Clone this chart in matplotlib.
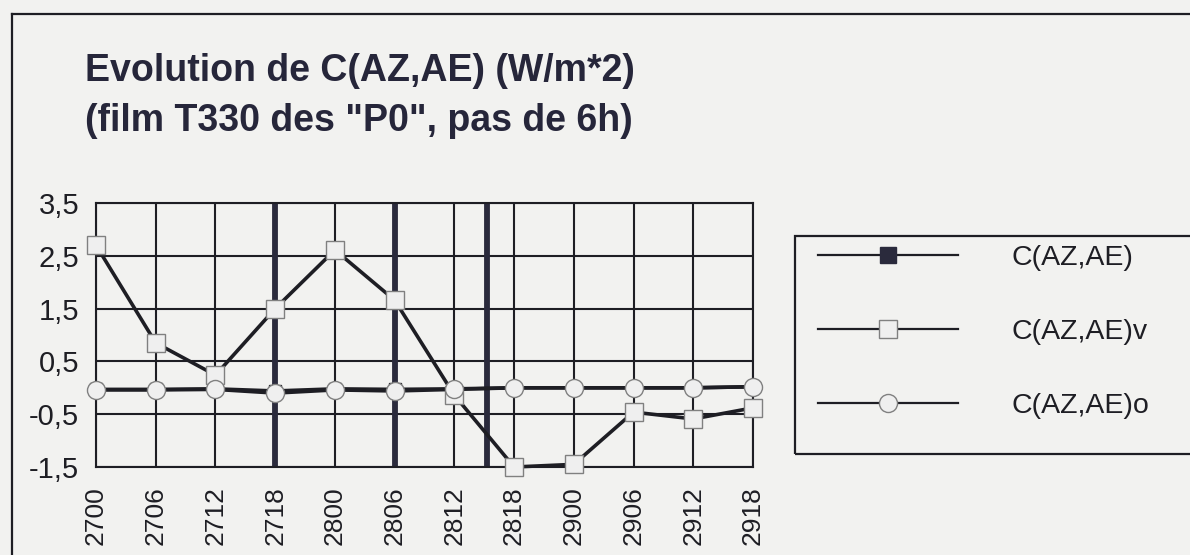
import matplotlib
matplotlib.use('Agg')
import matplotlib.pyplot as plt
from matplotlib.lines import Line2D
from matplotlib.patches import Rectangle
from matplotlib.ticker import FuncFormatter

# dates (jour+heure) du film T330, pas de 6h
dates = ['2700', '2706', '2712', '2718', '2800', '2806',
         '2812', '2818', '2900', '2906', '2912', '2918']
c_az_ae = [-0.03, -0.03, -0.02, -0.06, -0.02, -0.03,
           -0.02, 0.0, 0.0, 0.0, 0.0, 0.02]
c_az_ae_v = [2.7, 0.85, 0.24, 1.5, 2.61, 1.66,
             -0.14, -1.5, -1.45, -0.46, -0.59, -0.38]
c_az_ae_o = [-0.04, -0.04, -0.03, -0.1, -0.04, -0.06,
             -0.03, 0.0, 0.0, 0.0, 0.0, 0.02]
# traits verticaux epais sur le graphe (positions en index de date)
traits = [3, 5, 6.55]

fond = '#f2f2f0'
encre = '#1e1e24'
police = ['Liberation Sans', 'DejaVu Sans']

fig = plt.figure(figsize=(11.9, 5.55), dpi=100, facecolor=fond)

# cadre de la page
fig.add_artist(Line2D([12/1190, 1.0], [1-14/555, 1-14/555], color=encre, lw=1.6))
fig.add_artist(Line2D([12/1190, 12/1190], [0.0, 1-14/555], color=encre, lw=1.6))

fig.text(85/1190, 1-71/555, 'Evolution de C(AZ,AE) (W/m*2)', family=police,
         fontsize=27, fontweight='bold', va='center', ha='left', color='#26263a')
fig.text(85/1190, 1-121/555, '(film T330 des "P0", pas de 6h)', family=police,
         fontsize=27, fontweight='bold', va='center', ha='left', color='#26263a')

ax = fig.add_axes([96/1190, 1-467/555, (753-96)/1190, (467-203)/555])
ax.set_facecolor(fond)
x = list(range(len(dates)))

for t in traits:
    ax.axvline(t, color='#2a2a3c', lw=4.2, zorder=2)

ax.plot(x, c_az_ae, color=encre, lw=2.6, marker='s', ms=9,
        mfc=encre, mec=encre, clip_on=False, zorder=3)
ax.plot(x, c_az_ae_v, color=encre, lw=2.6, marker='s', ms=12.5,
        mfc='#efefef', mec='#808080', mew=1.0, clip_on=False, zorder=4)
ax.plot(x, c_az_ae_o, color=encre, lw=2.6, marker='o', ms=13,
        mfc='#efefef', mec='#808080', mew=1.0, clip_on=False, zorder=5)

ax.set_xlim(0, len(dates) - 1)
ax.set_ylim(-1.5, 3.5)
ax.set_xticks(x)
ax.set_xticklabels(dates, rotation=90, family=police, fontsize=19, color=encre)
ax.set_yticks([-1.5, -0.5, 0.5, 1.5, 2.5, 3.5])
ax.yaxis.set_major_formatter(FuncFormatter(lambda v, p: f'{v:.1f}'.replace('.', ',')))
for lab in ax.get_yticklabels():
    lab.set_family(police)
    lab.set_fontsize(21)
    lab.set_color(encre)
ax.tick_params(axis='y', length=0, pad=12)
ax.tick_params(axis='x', length=0, pad=14)
ax.grid(True, color=encre, lw=1.5, zorder=1)
ax.set_axisbelow(True)
for s in ax.spines.values():
    s.set_color(encre)
    s.set_linewidth(1.5)

# legende dans un cadre a droite
fig.add_artist(Rectangle((795/1190, 1-454/555), 400/1190, (454-236)/555,
                         transform=fig.transFigure, fill=False, ec=encre, lw=1.6))
poignees = [
    Line2D([], [], color=encre, lw=1.6, marker='s', ms=12, mfc='#2a2a3c', mec='#2a2a3c'),
    Line2D([], [], color=encre, lw=1.6, marker='s', ms=13, mfc='#efefef', mec='#808080'),
    Line2D([], [], color=encre, lw=1.6, marker='o', ms=13, mfc='#efefef', mec='#808080'),
]
fig.legend(poignees, ['C(AZ,AE)', 'C(AZ,AE)v', 'C(AZ,AE)o'],
           loc='upper left', bbox_to_anchor=(818/1190, 1-245/555),
           borderaxespad=0, borderpad=0,
           frameon=False, handlelength=4.9, handletextpad=1.9,
           labelspacing=1.68, prop={'family': police, 'size': 20.5},
           labelcolor=encre)

fig.savefig('out.png', dpi=100, facecolor=fond)
